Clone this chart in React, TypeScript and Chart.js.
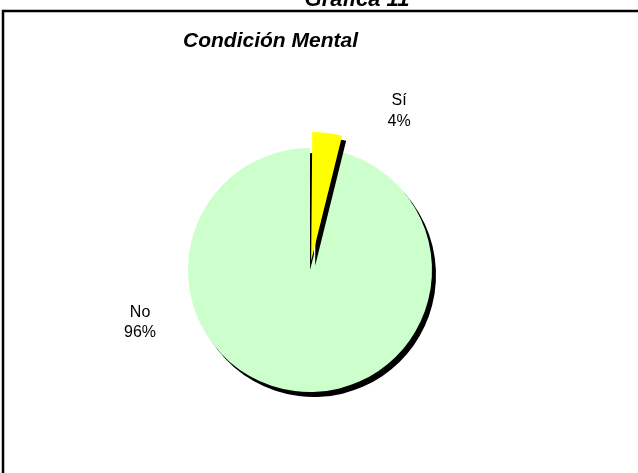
import React, { useEffect, useRef } from "react";
import { Chart, registerables } from "chart.js";

Chart.register(...registerables);

const categories = ["No", "Sí"];
const values = [96, 4];
const percentLabels = ["96%", "4%"];
const colors = ["#CCFFCC", "#FFFF00"];
const explode = [0, 37];
const pageTitle = "Gráfica 11";
const chartTitle = "Condición Mental";

const FONT = '"Liberation Sans", Arial, sans-serif';

export default function App() {
  const ref = useRef<HTMLCanvasElement>(null);

  useEffect(() => {
    if (!ref.current) return;
    const total = values.reduce((a, b) => a + b, 0);

    const shadowPlugin = {
      id: "shadow",
      beforeDatasetsDraw(chart: any) {
        const c = chart.ctx;
        c.save();
        c.shadowColor = "#000";
        c.shadowOffsetX = 4;
        c.shadowOffsetY = 5;
        c.shadowBlur = 0;
      },
      afterDatasetsDraw(chart: any) {
        chart.ctx.restore();
      },
    };

    const decor = {
      id: "decor",
      beforeDraw(chart: any) {
        const c = chart.ctx;
        c.save();
        c.fillStyle = "#fff";
        c.fillRect(0, 0, chart.width, chart.height);
        c.strokeStyle = "#000";
        c.lineWidth = 2.5;
        c.beginPath();
        c.moveTo(3, chart.height + 5);
        c.lineTo(3, 11);
        c.lineTo(chart.width + 5, 11);
        c.stroke();
        c.restore();
      },
      afterDraw(chart: any) {
        const c = chart.ctx;
        const arcs = chart.getDatasetMeta(0).data;
        const a0: any = arcs[0];
        const cx = a0.x;
        const cy = a0.y;
        const r = a0.outerRadius;
        c.save();
        c.fillStyle = "#000";
        c.font = `italic bold 22px ${FONT}`;
        c.textAlign = "center";
        c.textBaseline = "alphabetic";
        c.fillText(pageTitle, 357, 6);
        c.font = `italic bold 21px ${FONT}`;
        c.textAlign = "left";
        c.fillText(chartTitle, 183, 47);

        c.font = `16px ${FONT}`;
        c.textAlign = "center";
        // Sí label
        const sx = cx + 0.73 * r;
        const sy = cy - 1.353 * r;
        c.fillText(categories[1], sx, sy);
        c.fillText(percentLabels[1], sx, sy + 21);
        // No label
        const nx = cx - 1.393 * r;
        const ny = cy + 0.385 * r;
        c.fillText(categories[0], nx, ny);
        c.fillText(percentLabels[0], nx, ny + 20);
        c.restore();
      },
    };

    const chart = new Chart(ref.current, {
      type: "pie",
      data: {
        labels: categories,
        datasets: [
          {
            data: values,
            backgroundColor: colors,
            borderWidth: 0,
            offset: explode,
          },
        ],
      },
      options: {
        responsive: false,
        animation: false,
        rotation: (360 * values[1]) / total,
        radius: 122,
        layout: { padding: { left: 0, right: 18, top: 67, bottom: 0 } },
        plugins: {
          legend: { display: false },
          title: { display: false },
          tooltip: { enabled: false },
        },
      },
      plugins: [decor, shadowPlugin],
    });
    return () => chart.destroy();
  }, []);

  return (
    <div style={{ position: "absolute", left: 0, top: 0, width: 638, height: 473 }}>
      <canvas ref={ref} width={638} height={473} style={{ display: "block" }} />
    </div>
  );
}
